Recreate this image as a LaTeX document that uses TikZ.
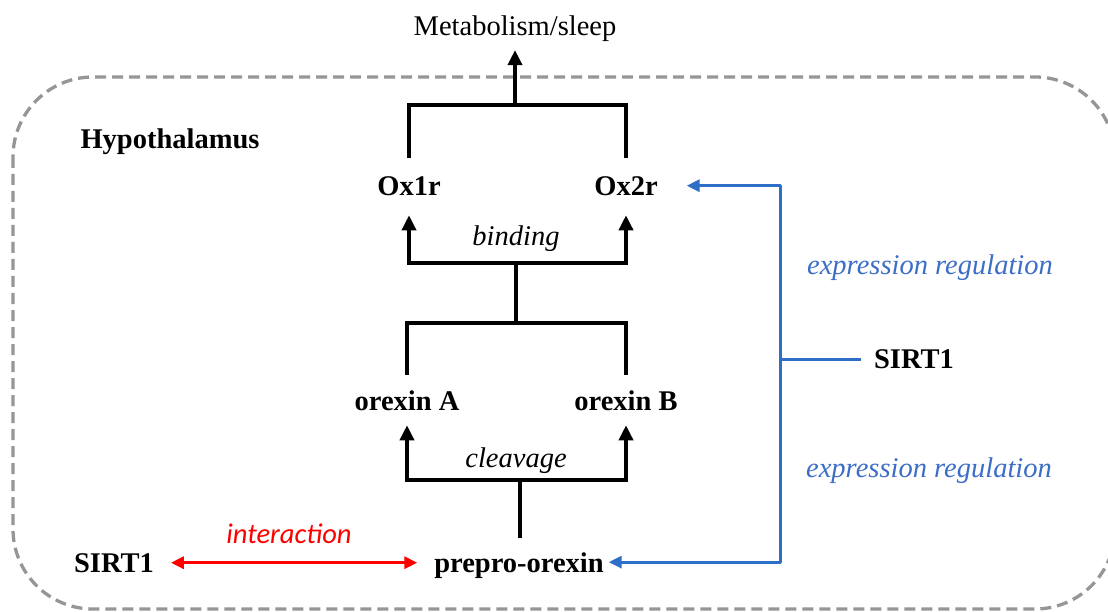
\documentclass[tikz,border=0pt]{standalone}
\usepackage{fontspec}
\setmainfont{Liberation Serif}
\newfontfamily\calfont{Carlito}
\usetikzlibrary{arrows.meta}
\definecolor{blueline}{RGB}{46,110,198}
\definecolor{bluetext}{RGB}{60,110,200}
\definecolor{dashgray}{RGB}{150,150,150}
\tikzset{
  ktip/.tip={Triangle[length=15pt,width=14pt]},
  bltip/.tip={Triangle[length=13pt,width=12pt]},
  rdtip/.tip={Triangle[length=13pt,width=12pt]}
}
\begin{document}
\begin{tikzpicture}[x=1pt,y=-1pt,
  every node/.style={inner sep=0pt,outer sep=0pt,font=\fontsize{28.5}{34}\selectfont},
  lbl/.style={anchor=base,font=\fontsize{28.5}{34}\selectfont\bfseries},
  plain/.style={anchor=base},
  itlbl/.style={anchor=base,font=\fontsize{28.5}{34}\selectfont\itshape},
  bluelbl/.style={anchor=base,text=bluetext,font=\fontsize{28.5}{34}\selectfont\itshape},
  redlbl/.style={anchor=base,text=red,font=\fontsize{28.5}{34}\selectfont\calfont\itshape},
  ln/.style={line width=3.5pt,black,line join=miter},
  bl/.style={line width=3pt,blueline,line join=round},
  rd/.style={line width=3.5pt,red},
  region/.style={line width=3.3pt,dashgray,dash pattern=on 11pt off 6pt,rounded corners=80pt}
]
\useasboundingbox (0,0) rectangle (1108,612);
\fill[white] (0,0) rectangle (1108,612);

% region
\draw[region] (13,77) rectangle (1115,609);

% labels
\node[plain] (met) at (515,36) {Metabolism/sleep};
\node[lbl] (hyp) at (170,149) {Hypothalamus};
\node[lbl] (ox1r) at (409,196) {Ox1r};
\node[lbl] (ox2r) at (626,196) {Ox2r};
\node[itlbl] (bind) at (516,246) {binding};
\node[lbl] (orA) at (407,410) {orexin A};
\node[lbl] (orB) at (626,410) {orexin B};
\node[itlbl] (clv) at (516,467) {cleavage};
\node[lbl] (pre) at (519,572) {prepro-orexin};
\node[lbl] (sirtL) at (114,572) {SIRT1};
\node[redlbl] (inter) at (289,543) {interaction};
\node[lbl] (sirtR) at (914,368) {SIRT1};
\node[bluelbl] (er1) at (930,275) {expression regulation};
\node[bluelbl] (er2) at (929,477) {expression regulation};

% junction coordinates
\coordinate (topbar) at (515,105);
\coordinate (bindbar) at (516,263);
\coordinate (orbar) at (516,323);
\coordinate (clvbar) at (520,480);
\coordinate (bj) at (780,359);

% receptors to metabolism
\draw[ln] ([yshift=19pt]ox1r.north) |- (topbar) -| ([yshift=19pt]ox2r.north);
\draw[ln,-{ktip}] (topbar) -- ([yshift=-8pt]met.south);

% binding
\draw[ln,{ktip}-{ktip}] ([yshift=-19pt]ox1r.south) |- (ox2r.south |- bindbar) -- ([yshift=-19pt]ox2r.south);
\draw[ln] (bindbar) -- (orbar);
\draw[ln] ([yshift=15pt]orA.north) |- (orbar) -| ([yshift=15pt]orB.north);

% cleavage
\draw[ln,{ktip}-{ktip}] ([yshift=-15pt]orA.south) |- (orB.south |- clvbar) -- ([yshift=-15pt]orB.south);
\draw[ln] ([yshift=14pt]pre.north -| clvbar) -- (clvbar);

% interaction
\draw[rd,{rdtip}-{rdtip}] ([xshift=17pt]sirtL.east) -- ([xshift=-17pt]sirtL.east -| pre.west);

% expression regulation
\draw[bl,{bltip}-{bltip}] ([xshift=29pt,yshift=1pt]ox2r.east) -| (bj) |- ([xshift=5pt,yshift=3pt]pre.east);
\draw[bl] (bj) -- ([xshift=-13pt]sirtR.west |- bj);
\end{tikzpicture}
\end{document}
